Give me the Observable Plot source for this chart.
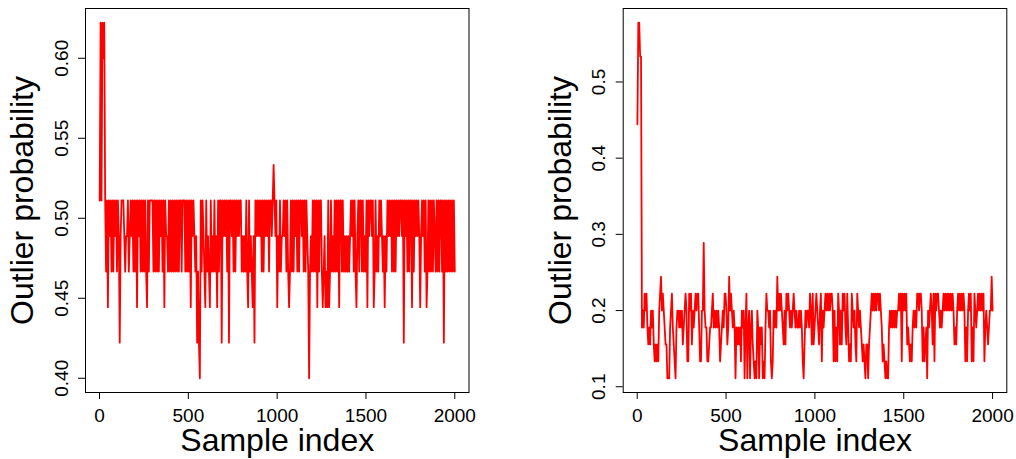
<!DOCTYPE html>
<html><head><meta charset="utf-8">
<script src="https://cdn.jsdelivr.net/npm/d3@7"></script>
<script src="https://cdn.jsdelivr.net/npm/@observablehq/plot@0.6"></script>
<style>
body{margin:0;background:#fff;}
#wrap{position:relative;width:1016px;height:459px;overflow:hidden;background:#fff;}
#wrap svg{position:absolute;top:0;}
</style></head><body><div id="wrap"></div>
<script>
const xLabel = "Sample index";
const yLabel = "Outlier probability";
const xTicks = [0, 500, 1000, 1500, 2000];
const leftYTicks = [0.40, 0.45, 0.50, 0.55, 0.60];
const rightYTicks = [0.1, 0.2, 0.3, 0.4, 0.5];

// Outlier probabilities as counts out of 45, base-36 coded (one character ≈ 5 samples)
const leftLevels = [
  "nsnsrsnlnknm","nlnlnmnlnmj","mnnnmlmmnlm","nmnlnlnknmn","lnlnlnlknln","nnnlnlnlnln",
  "mnlnknmmlnl","nlnlnlnlnln","nlnnnlnlnln","knmnmlmjlji","nlnmlknlmlk","nlmlnlmknln",
  "njnmnmnlnjn","nmnlnlnmnmn","nlmlmlnlknl","mlkmjnmnmnm","nlnlnmnmnln","nmnonmnkmln",
  "lmmnmnlnlkl","nlnlnmnlnln","nmnlnlnmlil","mlnlnlnknln","nlklmklknkl","nlmlnlnlnkn",
  "nlnlmlmlmlm","nmnlnlkmnln","nlnlmlnknmn","nmnklnlmlnm","nmlmkmlnmnm","nlnlnlnmnmn",
  "nmnjnmnlnln","nknlnmnmnmk","mnmnlnklnln","lnlnmlnlnln","nlnjnlnlnln","lnlnl"
].join("");
const rightLevels = [
  "kqqoo898a9a8","78798976767","69ab9a98775","5589a876589","98989789a96","6a9a7989a9a",
  "a86699d9886","67889a89898","9867898aa97","8b9a9898587","878698958a5","89589765659",
  "858785658a9","9896569898b","9a9a98797a9","a98989a9898","89898657989","98a97a789a9",
  "879a6989a9a","9a9aa969686","a9797a9a87a","8676a98976a","98987676577","5789a9a9a9a",
  "a9a98676565","58989898989","9a9a6a9a9a7","8767689898a","a9aa9686785","989a97a6a9a",
  "a98989a9a9a","9a9a9a97879","a9a9a9a9686","9a9a686a989","a9a9a9a6898","7899b9"
].join("");

function toSeries(code) {
  const n = code.length;
  return Array.from(code, (c, i) => ({x: 1 + i * 1999 / (n - 1), y: parseInt(c, 36) / 45}));
}
function padDomain(lo, hi) { const p = 0.04 * (hi - lo); return [lo - p, hi + p]; }

function panel(levels, yTicks, fmt, ml, mr) {
  const data = toSeries(levels);
  const [ylo, yhi] = d3.extent(data, d => d.y);
  return Plot.plot({
    width: 508, height: 459,
    marginLeft: ml, marginRight: mr, marginTop: 8, marginBottom: 67,
    style: {fontFamily: "'Liberation Sans', Arial, sans-serif", fontSize: "19px", color: "#000", background: "transparent"},
    x: {domain: padDomain(1, 2000), label: null},
    y: {domain: padDomain(ylo, yhi), label: null},
    marks: [
      Plot.line(data, {x: "x", y: "y", stroke: "#ff0000", strokeWidth: 1.8}),
      Plot.frame({stroke: "#000"}),
      Plot.axisX({ticks: xTicks, tickSize: 7, tickPadding: 9, tickFormat: d => String(d), label: null, fontSize: 19}),
      Plot.axisY({ticks: yTicks, tickSize: 7, tickPadding: 11, tickRotate: -90, tickFormat: fmt, label: null, fontSize: 19}),
      Plot.text([xLabel], {text: d => d, frameAnchor: "bottom", dy: 58, lineAnchor: "bottom", textAnchor: "middle", fontSize: 32}),
      Plot.text([yLabel], {text: d => d, frameAnchor: "left", dx: -75, rotate: -90, lineAnchor: "top", textAnchor: "middle", fontSize: 32})
    ]
  });
}

const wrap = document.getElementById("wrap");
const a = panel(leftLevels, leftYTicks, d3.format(".2f"), 85, 39.5);
a.style.left = "0px";
const b = panel(rightLevels, rightYTicks, d3.format(".1f"), 114.7, 9.7);
b.style.left = "508px";
wrap.appendChild(a);
wrap.appendChild(b);
</script>
</body></html>
